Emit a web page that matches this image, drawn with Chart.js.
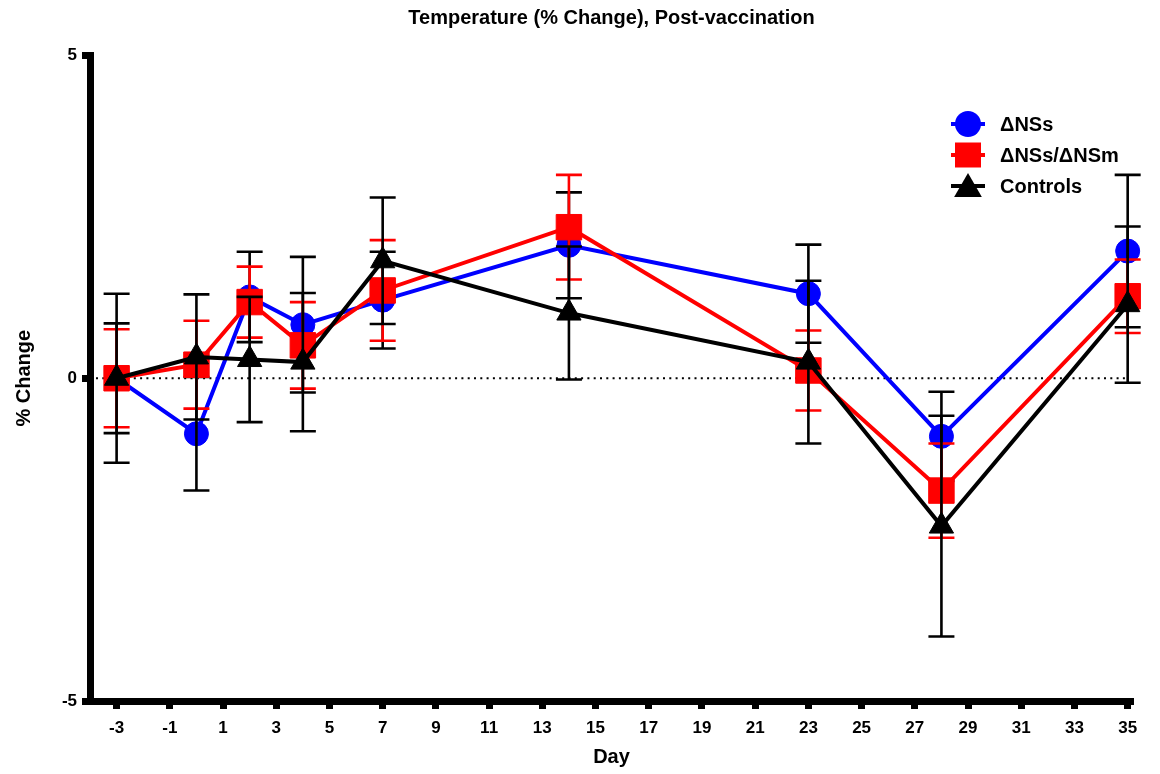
<!DOCTYPE html>
<html>
<head>
<meta charset="utf-8">
<script src="https://cdn.jsdelivr.net/npm/chart.js@4.4.0/dist/chart.umd.min.js"></script>
<style>
  html, body { margin: 0; padding: 0; background: #ffffff; }
  canvas { display: block; }
</style>
</head>
<body>
<canvas id="c" width="1160" height="774"></canvas>
<script>
// ---- Data ----
const days = [-3, 0, 2, 4, 7, 14, 23, 28, 35];
const nssMean = [0, -0.86, 1.26, 0.83, 1.21, 2.06, 1.31, -0.90, 1.97];
const nssErr  = [0.85, 0.88, 0.70, 1.05, 0.75, 0.82, 0.76, 0.69, 1.18];
const nsmMean = [0, 0.21, 1.18, 0.51, 1.36, 2.34, 0.12, -1.74, 1.27];
const nsmErr  = [0.76, 0.68, 0.55, 0.67, 0.78, 0.81, 0.62, 0.73, 0.57];
const ctlMean = [0, 0.33, 0.29, 0.25, 1.82, 1.01, 0.25, -2.29, 1.14];
const ctlErr  = [1.31, 0.97, 0.97, 1.07, 0.98, 1.03, 1.26, 1.71, 1.21];
const seriesNames = ['\u0394NSs', '\u0394NSs/\u0394NSm', 'Controls'];
const xTickValues = [-3, -1, 1, 3, 5, 7, 9, 11, 13, 15, 17, 19, 21, 23, 25, 27, 29, 31, 33, 35];
const yTickValues = [-5, 0, 5];
const titleText = 'Temperature (% Change), Post-vaccination';
const xTitle = 'Day';
const yTitle = '% Change';

const FONT = '"Liberation Sans", Arial, Helvetica, sans-serif';

function pts(means) { return days.map((d, i) => ({ x: d, y: means[i] })); }

const errorSets = [
  { err: nssErr, color: '#000000' },
  { err: nsmErr, color: '#ff0000' },
  { err: ctlErr, color: '#000000' }
];

const errorBarPlugin = {
  id: 'errorBars',
  afterDatasetDraw(chart, args) {
    const idx = args.index;
    const es = errorSets[idx];
    if (!es) return;
    const ds = chart.data.datasets[idx];
    const ys = chart.scales.y;
    const ctx = chart.ctx;
    ctx.save();
    ctx.strokeStyle = es.color;
    ctx.lineWidth = 2.6;
    ctx.lineCap = 'butt';
    args.meta.data.forEach((el, i) => {
      const v = ds.data[i].y;
      const e = es.err[i];
      const x = el.x;
      const yt = ys.getPixelForValue(v + e);
      const yb = ys.getPixelForValue(v - e);
      ctx.beginPath();
      ctx.moveTo(x, yt); ctx.lineTo(x, yb);
      ctx.moveTo(x - 13, yt); ctx.lineTo(x + 13, yt);
      ctx.moveTo(x - 13, yb); ctx.lineTo(x + 13, yb);
      ctx.stroke();
    });
    ctx.restore();
  }
};

const zeroLinePlugin = {
  id: 'zeroLine',
  beforeDatasetsDraw(chart) {
    const ctx = chart.ctx;
    const y0 = chart.scales.y.getPixelForValue(0);
    const a = chart.chartArea;
    ctx.save();
    ctx.strokeStyle = '#000000';
    ctx.lineWidth = 2;
    ctx.setLineDash([2, 4.3]);
    ctx.beginPath();
    ctx.moveTo(a.left + 6, y0);
    ctx.lineTo(a.right - 6, y0);
    ctx.stroke();
    ctx.restore();
  }
};

const legendPlugin = {
  id: 'customLegend',
  afterDraw(chart) {
    const ctx = chart.ctx;
    const mx = 968, tx = 1000;
    const items = [
      { y: 124, color: '#0000ff', shape: 'circle' },
      { y: 155, color: '#ff0000', shape: 'rect' },
      { y: 186, color: '#000000', shape: 'triangle' }
    ];
    ctx.save();
    items.forEach((it, i) => {
      ctx.strokeStyle = it.color;
      ctx.fillStyle = it.color;
      ctx.lineWidth = 4;
      ctx.beginPath();
      ctx.moveTo(mx - 17, it.y); ctx.lineTo(mx + 17, it.y);
      ctx.stroke();
      ctx.beginPath();
      if (it.shape === 'circle') {
        ctx.arc(mx, it.y, 13, 0, Math.PI * 2);
      } else if (it.shape === 'rect') {
        ctx.rect(mx - 13, it.y - 12.5, 26, 25);
      } else {
        const r = 16, cy = it.y + 3;
        ctx.moveTo(mx, cy - r);
        ctx.lineTo(mx + r * 0.866, cy + r / 2);
        ctx.lineTo(mx - r * 0.866, cy + r / 2);
        ctx.closePath();
      }
      ctx.fill();
      ctx.fillStyle = '#000000';
      ctx.font = 'bold 20px ' + FONT;
      ctx.textAlign = 'left';
      ctx.textBaseline = 'middle';
      ctx.fillText(seriesNames[i], tx, it.y + 1);
    });
    ctx.restore();
  }
};

new Chart(document.getElementById('c'), {
  type: 'line',
  data: {
    datasets: [
      {
        label: seriesNames[0], data: pts(nssMean),
        borderColor: '#0000ff', backgroundColor: '#0000ff',
        borderWidth: 4, pointStyle: 'circle', pointRadius: 12,
        pointBorderWidth: 1, pointHoverRadius: 12, tension: 0, order: 2, clip: false
      },
      {
        label: seriesNames[1], data: pts(nsmMean),
        borderColor: '#ff0000', backgroundColor: '#ff0000',
        borderWidth: 4, pointStyle: 'rect', pointRadius: 18,
        pointBorderWidth: 1, pointHoverRadius: 18, tension: 0, order: 1, clip: false
      },
      {
        label: seriesNames[2], data: pts(ctlMean),
        borderColor: '#000000', backgroundColor: '#000000',
        borderWidth: 4, pointStyle: 'triangle', pointRadius: 14,
        pointBorderWidth: 1, pointHoverRadius: 14, tension: 0, order: 0, clip: false
      }
    ]
  },
  options: {
    responsive: false,
    animation: false,
    devicePixelRatio: 1,
    layout: { padding: { left: 0, right: 27, top: 0, bottom: 0 } },
    plugins: {
      legend: { display: false },
      tooltip: { enabled: false },
      title: {
        display: true,
        text: titleText,
        fullSize: false,
        color: '#000000',
        font: { family: FONT, size: 20, weight: 'bold', lineHeight: 1.2 },
        padding: { top: 6, bottom: 25.5 }
      }
    },
    scales: {
      x: {
        type: 'linear',
        min: -4,
        max: 35.2,
        afterBuildTicks(scale) { scale.ticks = xTickValues.map(v => ({ value: v })); },
        afterFit(scale) { scale.height = 73; },
        grid: { display: true, drawOnChartArea: false, drawTicks: true, tickLength: 8, tickWidth: 7, tickColor: '#000000', color: '#000000' },
        border: { display: true, width: 7, color: '#000000' },
        ticks: {
          color: '#000000', padding: 9, maxRotation: 0, autoSkip: false,
          font: { family: FONT, size: 17, weight: 'bold' },
          callback: (v) => String(v)
        },
        title: {
          display: true, text: xTitle, color: '#000000',
          font: { family: FONT, size: 20, weight: 'bold', lineHeight: 1.2 },
          padding: { top: 0, bottom: 5 }
        }
      },
      y: {
        type: 'linear',
        min: -5,
        max: 5,
        afterBuildTicks(scale) { scale.ticks = yTickValues.map(v => ({ value: v })); },
        afterFit(scale) { scale.width = 90; },
        grid: { display: true, drawOnChartArea: false, drawTicks: true, tickLength: 8, tickWidth: 7, tickColor: '#000000', color: '#000000' },
        border: { display: true, width: 7, color: '#000000' },
        ticks: {
          color: '#000000', padding: 5, autoSkip: false,
          font: { family: FONT, size: 17, weight: 'bold' },
          callback: (v) => String(v)
        },
        title: {
          display: true, text: yTitle, color: '#000000',
          font: { family: FONT, size: 20, weight: 'bold', lineHeight: 1.2 },
          padding: { top: 12, bottom: 0 }
        }
      }
    }
  },
  plugins: [zeroLinePlugin, errorBarPlugin, legendPlugin]
});
</script>
</body>
</html>
